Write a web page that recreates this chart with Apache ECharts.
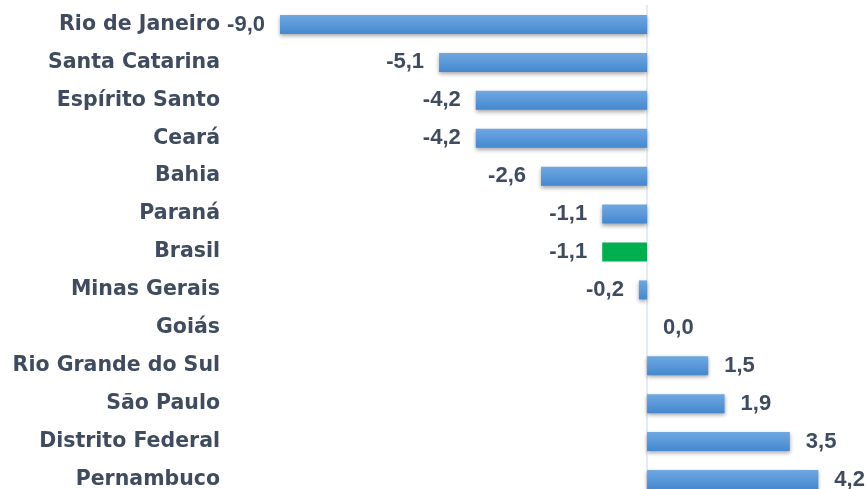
<!DOCTYPE html>
<html>
<head>
<meta charset="utf-8">
<script src="https://cdn.jsdelivr.net/npm/echarts@6/dist/echarts.min.js"></script>
<style>
  html, body { margin: 0; padding: 0; background: #fff; }
  #chart { width: 867px; height: 489px; }
</style>
</head>
<body>
<div id="chart"></div>
<script>
// estados, de cima para baixo
const estados = [
  "Rio de Janeiro", "Santa Catarina", "Espírito Santo", "Ceará", "Bahia",
  "Paraná", "Brasil", "Minas Gerais", "Goiás", "Rio Grande do Sul",
  "São Paulo", "Distrito Federal", "Pernambuco"
];
const variacao = [-9.0, -5.1, -4.2, -4.2, -2.6, -1.1, -1.1, -0.2, 0.0, 1.5, 1.9, 3.5, 4.2];
const destaque = "Brasil";

const textColor = "#3f4b5f";
const blue = new echarts.graphic.LinearGradient(0, 0, 0, 1, [
  { offset: 0, color: "#6ea8e2" },
  { offset: 1, color: "#4588cf" }
]);

const chart = echarts.init(document.getElementById("chart"));
chart.setOption({
  animation: false,
  // a última linha fica cortada pela borda de baixo, como no original
  grid: { left: 280, right: 16, top: 5.5, height: 493, outerBoundsMode: "none" },
  xAxis: {
    type: "value",
    min: -9,
    max: 5,
    show: false
  },
  yAxis: {
    type: "category",
    data: estados,
    inverse: true,
    axisTick: { show: false },
    axisLine: { show: true, lineStyle: { color: "#dde4ee", width: 1.5 } },
    axisLabel: {
      margin: 60,
      color: textColor,
      fontFamily: "DejaVu Sans, sans-serif",
      fontWeight: "bold",
      fontSize: 20.5
    }
  },
  series: [{
    type: "bar",
    barWidth: 19,
    data: variacao.map((v, i) => ({
      value: v,
      itemStyle: estados[i] === destaque
        ? { color: "#00b050", shadowBlur: 0, shadowOffsetY: 0 }
        : (v === 0 ? { color: "#f4f4f4" } : {}),
      label: { position: v < 0 ? "left" : "right", distance: v < 0 ? 15 : 16 }
    })),
    itemStyle: {
      color: blue,
      shadowColor: "rgba(0,0,0,0.35)",
      shadowBlur: 4,
      shadowOffsetY: 2
    },
    label: {
      show: true,
      color: textColor,
      fontFamily: "Liberation Sans, Arial, sans-serif",
      fontWeight: "bold",
      fontSize: 22,
      formatter: p => p.value.toFixed(1).replace(".", ",")
    }
  }]
});
</script>
</body>
</html>
